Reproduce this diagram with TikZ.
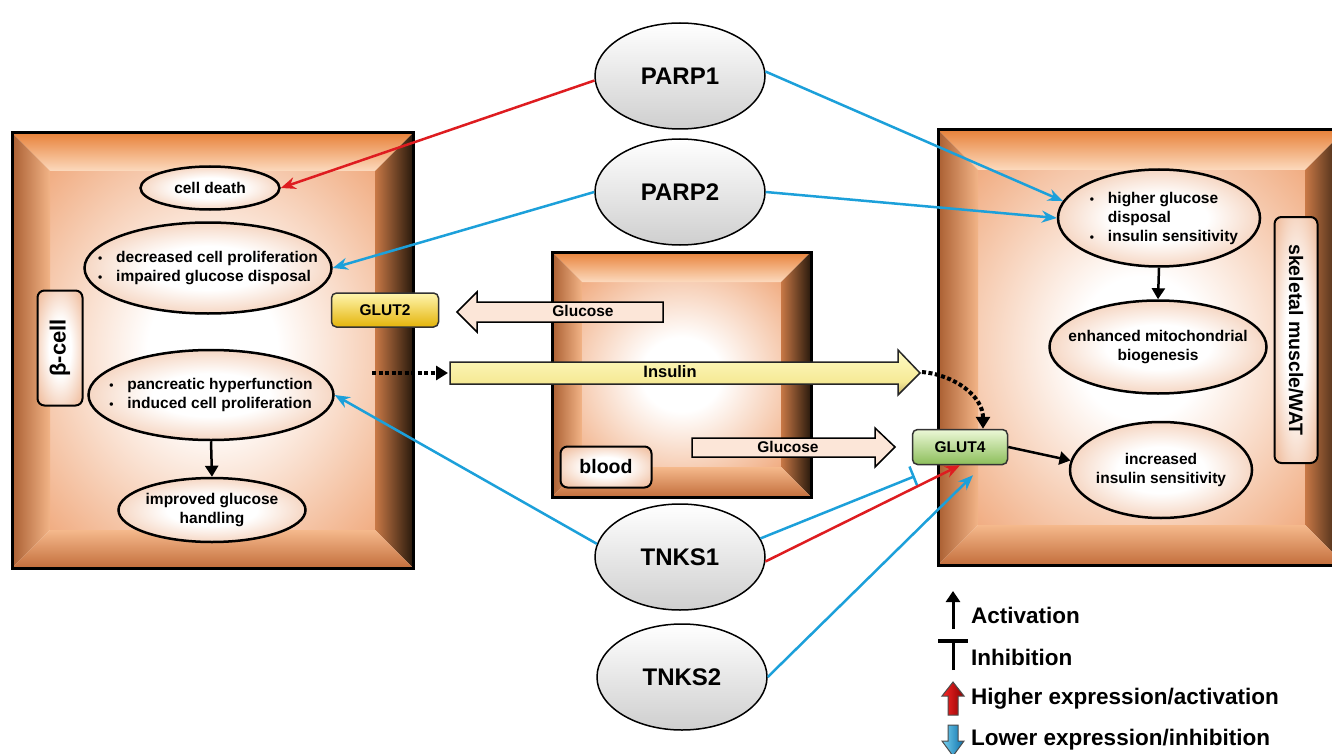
\documentclass[tikz,border=0pt]{standalone}
\usepackage{fontspec}
\setmainfont{Liberation Sans}
\usetikzlibrary{shapes.geometric,arrows.meta,calc}
\definecolor{bvTop}{RGB}{232,130,58}
\definecolor{bvTopIn}{RGB}{252,218,190}
\definecolor{bvL}{RGB}{170,95,50}
\definecolor{bvLIn}{RGB}{242,180,135}
\definecolor{bvR}{RGB}{40,25,12}
\definecolor{bvRIn}{RGB}{200,120,70}
\definecolor{bvB}{RGB}{195,110,60}
\definecolor{bvBIn}{RGB}{245,185,140}
\definecolor{inOut}{RGB}{236,145,88}
\definecolor{ellOut}{RGB}{228,138,82}
\definecolor{actRed}{RGB}{222,28,32}
\definecolor{inhBlue}{RGB}{28,160,218}
\definecolor{gluDark}{RGB}{175,135,115}
\definecolor{gluLight}{RGB}{252,230,216}
\definecolor{gluMid}{RGB}{240,205,185}
\definecolor{insDark}{RGB}{185,165,95}
\definecolor{insMid}{RGB}{246,234,150}
\definecolor{insLight}{RGB}{253,248,190}
\pgfdeclareradialshading{glowE}{\pgfpoint{0bp}{0bp}}{color(0bp)=(white); color(12bp)=(white); color(50bp)=(ellOut); color(60bp)=(ellOut)}
\pgfdeclareradialshading{glowB}{\pgfpoint{0bp}{0bp}}{color(0bp)=(white); color(10bp)=(white); color(44bp)=(inOut); color(72bp)=(inOut)}
\pgfdeclareverticalshading{gluShade}{100bp}{color(0bp)=(gluMid); color(30bp)=(gluLight); color(78bp)=(gluLight); color(92bp)=(gluDark); color(100bp)=(gluDark)}
\pgfdeclareverticalshading{insShade}{100bp}{color(0bp)=(insDark); color(22bp)=(insDark); color(40bp)=(insMid); color(70bp)=(insLight); color(100bp)=(insLight)}
\newcommand\tfont{\fontsize{15.5}{19}\selectfont\bfseries}
\newcommand\bul{\makebox[18pt][l]{\fontsize{12}{12}\selectfont\textbullet}}
\newcommand\bevbox[5]{%
 \shade[shading=glowB] ({#1+#5},{#2+#5}) rectangle ({#3-#5},{#4-#5});
 \shade[top color=bvTop,bottom color=bvTopIn] (#1,#2) -- (#3,#2) -- ({#3-#5},{#2+#5}) -- ({#1+#5},{#2+#5}) -- cycle;
 \shade[left color=bvL,right color=bvLIn] (#1,#2) -- ({#1+#5},{#2+#5}) -- ({#1+#5},{#4-#5}) -- (#1,#4) -- cycle;
 \shade[left color=bvRIn,right color=bvR] (#3,#2) -- ({#3-#5},{#2+#5}) -- ({#3-#5},{#4-#5}) -- (#3,#4) -- cycle;
 \shade[top color=bvBIn,bottom color=bvB] (#1,#4) -- ({#1+#5},{#4-#5}) -- ({#3-#5},{#4-#5}) -- (#3,#4) -- cycle;
 \draw[line width=3pt] (#1,#2) rectangle (#3,#4);
}
\begin{document}
\begin{tikzpicture}[x=1pt,y=-1pt,
 cellell/.style={ellipse, draw=black, line width=2.5pt, shade, shading=glowE, inner sep=0pt},
 enz/.style={ellipse, draw=black, line width=1.5pt, top color=white, middle color=gray!10, bottom color=gray!38,
   minimum width=170pt, minimum height=106pt, font=\fontsize{24}{24}\selectfont\bfseries},
 tag/.style={draw=black, line width=2pt, rounded corners=7pt, shade, shading=glowE, font=\fontsize{20}{20}\selectfont\bfseries},
 redarr/.style={draw=actRed, line width=2.5pt, -{Stealth[length=15pt,width=12pt]}},
 bluarr/.style={draw=inhBlue, line width=2.5pt, -{Stealth[length=15pt,width=12pt]}},
 bluinh/.style={draw=inhBlue, line width=2.5pt, -{Bar[width=22pt,line width=2.5pt]}},
 blkarr/.style={draw=black, line width=2.5pt, -{Triangle[length=11pt,width=13pt]}},
 dotarr/.style={draw=black, line width=4pt, dash pattern=on 4pt off 2.5pt, -{Triangle[length=12pt,width=14pt]}},
 legtxt/.style={anchor=west, font=\fontsize{22.5}{22.5}\selectfont\bfseries, inner sep=0pt},
 blocktxt/.style={font=\tfont, inner sep=0pt},
 gluarr/.style={draw=black, line width=1.5pt, line join=miter, shade, shading=gluShade},
 insarr/.style={draw=black!85, line width=1.5pt, line join=miter, shade, shading=insShade}
]
\useasboundingbox (0,0) rectangle (1332,754);
\fill[white] (0,0) rectangle (1332,754);

% compartments
\bevbox{12}{133}{413}{568}{38}
\bevbox{552}{252}{811}{497}{30}
\bevbox{938}{130}{1345}{565}{40}

% beta-cell content
\node[cellell, minimum width=139pt, minimum height=43pt, label={[font=\tfont]center:cell death}] (death) at (210,188) {};
\node[cellell, minimum width=247pt, minimum height=91pt,
  label={[font=\tfont, align=left]center:{\bul decreased cell proliferation\\\bul impaired glucose disposal}}] (dec) at (208,268) {};
\node[cellell, minimum width=245pt, minimum height=90pt,
  label={[font=\tfont, align=left]center:{\bul pancreatic hyperfunction\\\bul induced cell proliferation}}] (panc) at (211,395) {};
\node[cellell, minimum width=187pt, minimum height=64pt,
  label={[font=\tfont, align=center]center:{improved glucose\\handling}}] (impr) at (212,510) {};
\node[tag, rotate=90, minimum width=115pt, minimum height=45pt, inner sep=0pt, font=\fontsize{22}{22}\selectfont\bfseries] (beta) at (60,348) {β-cell};
\draw[blkarr] (panc.south) -- (impr.north);

% muscle content
\node[cellell, minimum width=202pt, minimum height=97pt,
  label={[font=\tfont, align=left, xshift=5pt]center:{\bul higher glucose\\\hphantom{\bul}disposal\\\bul insulin sensitivity}}] (hg) at (1159,218) {};
\node[cellell, minimum width=217pt, minimum height=93pt,
  label={[font=\tfont, align=center]center:{enhanced mitochondrial\\biogenesis}}] (enh) at (1158,347) {};
\node[cellell, minimum width=182pt, minimum height=96pt,
  label={[font=\tfont, align=center]center:{increased\\insulin sensitivity}}] (incr) at (1161,470) {};
\node[tag, rotate=-90, minimum width=246pt, minimum height=43pt, inner sep=0pt, font=\fontsize{19.5}{19.5}\selectfont\bfseries] (skm) at (1296,340) {skeletal muscle/WAT};
\draw[blkarr] (hg.south) -- (enh.north);

% blood content
\node[tag, minimum width=91pt, minimum height=41pt, inner sep=0pt, font=\fontsize{19.5}{19.5}\selectfont\bfseries] (blood) at (606,467) {blood};

% transporters
\node[draw=black!80, line width=1.5pt, rounded corners=5pt, top color={rgb,255:red,255;green,246;blue,175}, bottom color={rgb,255:red,228;green,180;blue,10},
  minimum width=107pt, minimum height=34pt, inner sep=0pt, font=\tfont] (glut2) at (385,310) {GLUT2};
\node[draw=black!80, line width=1.5pt, rounded corners=5pt, top color={rgb,255:red,236;green,248;blue,215}, bottom color={rgb,255:red,140;green,190;blue,90},
  minimum width=95pt, minimum height=35pt, inner sep=0pt, font=\tfont] (glut4) at (960,447) {GLUT4};

% block arrows
\path[gluarr]
  (663,302) -- (477,302) -- (477,292) -- (457,312) -- (477,332) -- (477,322) -- (663,322) -- cycle;
\node[blocktxt] (gluL) at (583,311) {Glucose};
\path[insarr]
  (450,362) -- (898,362) -- (898,350) -- (920,373) -- (898,395) -- (898,384) -- (450,384) -- cycle;
\node[blocktxt, font=\fontsize{16.5}{19}\selectfont\bfseries] (ins) at (670,372) {Insulin};
\coordinate (insTail) at (448,373);
\coordinate (insTip) at (922,372);
\path[gluarr]
  (692,438) -- (875,438) -- (875,428) -- (895,447) -- (875,467) -- (875,457) -- (692,457) -- cycle;
\node[blocktxt] (gluR) at (788,447) {Glucose};

% dotted insulin signalling
\coordinate (dotS) at (372,373);
\draw[dotarr] (dotS) -- (insTail);
\draw[dotarr] (insTip) to[out=-5,in=90] ($(glut4.north)+(23,0)$);
\draw[blkarr] (glut4.east) -- (incr.174);

% enzymes
\node[enz] (parp1) at (680,76) {PARP1};
\node[enz] (parp2) at (680,192) {PARP2};
\node[enz] (tnks1) at (680,557) {TNKS1};
\node[enz] (tnks2) at (682,677) {TNKS2};

% connectors
\draw[redarr] (parp1.183) -- (death.east);
\draw[bluarr] (parp1.3) -- (hg.170);
\draw[bluarr] (parp2.west) -- (dec.east);
\draw[bluarr] (parp2.east) -- (hg.west);
\draw[bluarr] (tnks1.171) -- (panc.east);
\coordinate (inhEnd) at ($(glut4.south west)+(3,11)$);
\draw[bluinh] (tnks1.13) -- (inhEnd);
\draw[redarr] (tnks1.-3) -- (glut4.south);
\draw[bluarr] (tnks2.east) -- ($(glut4.south)+(13,10)$);

% legend
\coordinate (la0) at (953,629);
\coordinate (la1) at (953,591);
\draw[draw=black, line width=3pt, -{Triangle[length=11pt,width=14pt]}] (la0) -- (la1);
\node[legtxt] (lact) at (971,615) {Activation};
\coordinate (li0) at (953,670);
\coordinate (li1) at (953,639);
\draw[draw=black, line width=3pt, -{Bar[width=30pt,line width=4pt]}] (li0) -- (li1);
\node[legtxt] (linh) at (971,657) {Inhibition};
\shade[draw=black!70, line width=1pt, left color={rgb,255:red,250;green,40;blue,40}, right color={rgb,255:red,140;green,0;blue,0}]
  (948,715) -- (948,696) -- (942,696) -- (953,682) -- (964,696) -- (958,696) -- (958,715) -- cycle;
\node[legtxt] (lhi) at (971,699) {Higher expression/activation};
\shade[draw=black!70, line width=1pt, left color={rgb,255:red,120;green,210;blue,240}, right color={rgb,255:red,10;green,110;blue,170}]
  (948,725) -- (948,741) -- (942,741) -- (953,756) -- (964,741) -- (958,741) -- (958,725) -- cycle;
\node[legtxt] (llo) at (971,740) {Lower expression/inhibition};
\end{tikzpicture}
\end{document}
